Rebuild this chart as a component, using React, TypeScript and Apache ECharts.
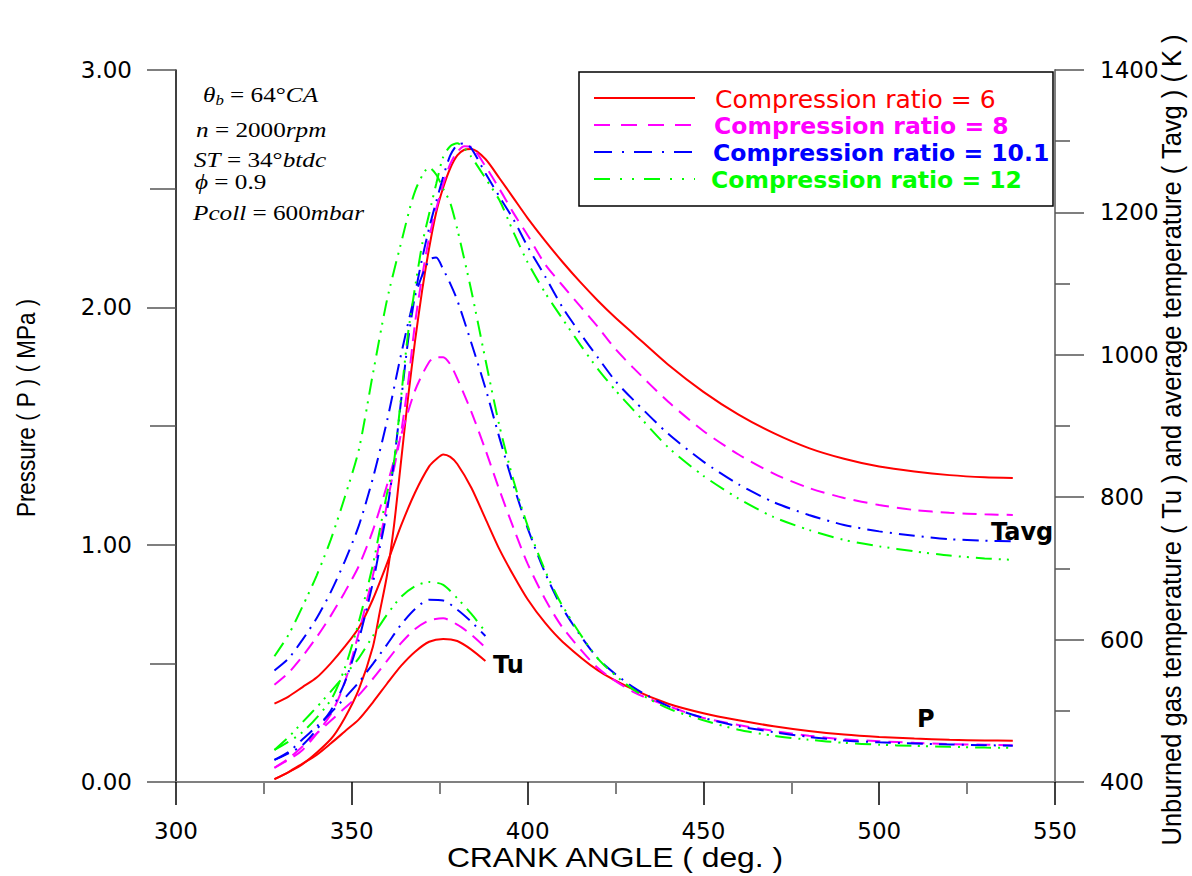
import React, { useEffect, useRef } from "react";
import * as echarts from "echarts";

// ---------- data ----------
const crankP = [328, 332, 336, 340, 344, 348, 352, 356, 360, 364, 368, 372, 374, 376, 378, 380, 384, 388, 392, 396, 400, 405, 410, 420, 430, 440, 450, 460, 470, 480, 490, 500, 510, 520, 530, 538];
const pCR6 = [0.33, 0.36, 0.40, 0.44, 0.50, 0.57, 0.65, 0.77, 0.92, 1.08, 1.22, 1.33, 1.36, 1.38, 1.37, 1.34, 1.24, 1.11, 0.98, 0.87, 0.77, 0.67, 0.59, 0.47, 0.39, 0.33, 0.29, 0.26, 0.235, 0.215, 0.2, 0.19, 0.183, 0.178, 0.175, 0.174];
const pCR8 = [0.41, 0.46, 0.53, 0.61, 0.70, 0.80, 0.91, 1.06, 1.25, 1.46, 1.65, 1.77, 1.79, 1.79, 1.76, 1.70, 1.56, 1.40, 1.23, 1.07, 0.92, 0.77, 0.65, 0.48, 0.38, 0.32, 0.27, 0.24, 0.215, 0.195, 0.18, 0.172, 0.165, 0.16, 0.157, 0.155];
const pCR10 = [0.47, 0.52, 0.60, 0.69, 0.80, 0.93, 1.08, 1.28, 1.52, 1.80, 2.05, 2.20, 2.21, 2.16, 2.10, 2.03, 1.85, 1.66, 1.45, 1.25, 1.07, 0.88, 0.73, 0.52, 0.40, 0.32, 0.27, 0.235, 0.21, 0.19, 0.175, 0.167, 0.162, 0.158, 0.155, 0.153];
const pCR12 = [0.53, 0.62, 0.74, 0.87, 1.02, 1.20, 1.40, 1.72, 2.03, 2.27, 2.49, 2.59, 2.56, 2.50, 2.44, 2.33, 2.07, 1.78, 1.50, 1.27, 1.08, 0.89, 0.74, 0.52, 0.39, 0.31, 0.26, 0.22, 0.195, 0.178, 0.165, 0.157, 0.152, 0.148, 0.145, 0.144];

const crankTu = [328, 332, 336, 340, 344, 348, 352, 356, 360, 364, 368, 372, 376, 380, 384, 388];
const tuCR6 = [404, 414, 426, 438, 454, 471, 488, 512, 538, 563, 583, 597, 601, 598, 586, 570];
const tuCR8 = [420, 433, 450, 468, 486, 504, 522, 545, 570, 595, 615, 627, 630, 621, 607, 589];
const tuCR10 = [431, 442, 460, 478, 497, 518, 540, 566, 593, 621, 643, 656, 655, 642, 625, 605];
const tuCR12 = [445, 463, 484, 505, 527, 550, 574, 605, 635, 660, 675, 681, 677, 658, 636, 611];

const crankT = [328, 336, 344, 348, 352, 356, 358, 360, 362, 364, 366, 368, 370, 372, 374, 376, 378, 380, 382, 384, 388, 392, 396, 400, 405, 410, 415, 420, 425, 430, 440, 450, 460, 470, 480, 490, 500, 510, 520, 530, 538];
const tavgCR6 = [404, 425, 460, 490, 530, 590, 640, 690, 760, 850, 940, 1020, 1090, 1150, 1200, 1235, 1262, 1280, 1288, 1289, 1275, 1248, 1220, 1192, 1160, 1130, 1102, 1076, 1052, 1030, 986, 948, 916, 890, 869, 854, 843, 836, 831, 828, 827];
const tavgCR8 = [420, 445, 495, 540, 610, 690, 740, 790, 840, 890, 960, 1045, 1110, 1165, 1205, 1240, 1268, 1285, 1293, 1292, 1265, 1233, 1199, 1168, 1127, 1097, 1068, 1039, 1008, 982, 934, 893, 860, 833, 813, 799, 789, 782, 778, 776, 775];
const tavgCR10 = [431, 452, 500, 540, 600, 680, 730, 780, 850, 935, 1020, 1085, 1135, 1178, 1215, 1250, 1280, 1295, 1297, 1290, 1255, 1222, 1190, 1152, 1110, 1066, 1030, 996, 963, 937, 889, 850, 818, 793, 775, 761, 752, 746, 741, 739, 738];
const tavgCR12 = [445, 470, 515, 560, 625, 705, 755, 805, 850, 940, 1030, 1095, 1155, 1198, 1240, 1278, 1293, 1297, 1290, 1278, 1248, 1217, 1172, 1130, 1087, 1050, 1014, 980, 950, 923, 870, 830, 798, 772, 754, 740, 731, 724, 718, 714, 712];

const ratios = ["6", "8", "10.1", "12"];
const colors = ["#ff0000", "#ff00ff", "#0000ff", "#00ff00"];
const dashes: any[] = ["solid", [14, 8], [16, 7, 2, 7], [16, 7, 2, 6, 2, 7]];
const legendDashes: any[] = [null, [16, 11], [18, 10, 2, 10], [16, 10, 2, 10, 2, 10]];

const pSets = [pCR6, pCR8, pCR10, pCR12];
const tuSets = [tuCR6, tuCR8, tuCR10, tuCR12];
const tavgSets = [tavgCR6, tavgCR8, tavgCR10, tavgCR12];

const xTicks = { min: 300, max: 550, interval: 50 };
const pTicks = { min: 0, max: 3, interval: 1 };
const tTicks = { min: 400, max: 1400, interval: 200 };

const zip = (xs: number[], ys: number[]) => xs.map((x, i) => [x, ys[i]]);

function buildOption() {
  const series: any[] = [];
  ratios.forEach((r, i) => {
    const ls = { color: colors[i], width: 2, type: dashes[i] };
    series.push({ type: "line", name: "P CR " + r, yAxisIndex: 0, data: zip(crankP, pSets[i]), symbol: "none", smooth: 0.25, lineStyle: ls, silent: true });
    series.push({ type: "line", name: "Tu CR " + r, yAxisIndex: 1, data: zip(crankTu, tuSets[i]), symbol: "none", smooth: 0.25, lineStyle: ls, silent: true });
    series.push({ type: "line", name: "Tavg CR " + r, yAxisIndex: 1, data: zip(crankT, tavgSets[i]), symbol: "none", smooth: 0.25, lineStyle: ls, silent: true });
  });

  const sans = "DejaVu Sans";
  const graphic: any[] = [];
  // legend box
  graphic.push({ type: "rect", shape: { x: 579, y: 72, width: 474, height: 134 }, style: { fill: "#fff", stroke: "#000", lineWidth: 1.5 }, z: 10 });
  const rowY = [98, 125, 152, 179];
  const textX = [715, 714, 713, 711];
  ratios.forEach((r, i) => {
    const st: any = { stroke: colors[i], lineWidth: 2 };
    if (legendDashes[i]) st.lineDash = legendDashes[i];
    graphic.push({ type: "line", shape: { x1: 594, y1: rowY[i], x2: 695, y2: rowY[i] }, style: st, z: 11 });
    graphic.push({
      type: "text", x: textX[i], y: rowY[i] + 1, z: 11,
      style: { text: "Compression ratio = " + r, fill: colors[i], fontFamily: sans, fontSize: i === 0 ? 25 : 23.5, fontWeight: i === 0 ? "normal" : "bold", align: "left", verticalAlign: "middle", textAlign: "left", textVerticalAlign: "middle" },
    });
  });

  // annotation block
  const rich = {
    it: { fontFamily: "Liberation Serif", fontStyle: "italic", fontSize: 21, fill: "#000" },
    up: { fontFamily: "Liberation Serif", fontSize: 21, fill: "#000" },
    sub: { fontFamily: "Liberation Serif", fontStyle: "italic", fontSize: 14, fill: "#000", padding: [10, 0, 0, 0] },
  };
  const notes = [
    { t: "{it|θ}{sub|b}{up| = 64°}{it|CA}", x: 203, y: 95 },
    { t: "{it|n}{up| = 2000}{it|rpm}", x: 196, y: 130 },
    { t: "{it|ST}{up| = 34°}{it|btdc}", x: 194, y: 160 },
    { t: "{it|ϕ}{up| = 0.9}", x: 195, y: 182 },
    { t: "{it|Pcoll}{up| = 600}{it|mbar}", x: 193, y: 213 },
  ];
  notes.forEach((n) => {
    graphic.push({ type: "text", x: n.x, y: n.y, scaleX: 1.2, style: { text: n.t, rich, align: "left", verticalAlign: "middle", textAlign: "left", textVerticalAlign: "middle" } });
  });

  // curve labels
  const lbl = (text: string, x: number, y: number) => ({
    type: "text", x, y, style: { text, fontFamily: sans, fontWeight: "bold", fontSize: 24, fill: "#000", align: "left", verticalAlign: "middle", textAlign: "left", textVerticalAlign: "middle" },
  });
  graphic.push(lbl("Tu", 493, 665));
  graphic.push(lbl("P", 917, 719));
  graphic.push(lbl("Tavg", 991, 532));

  // axis titles
  graphic.push({
    type: "text", x: 615, y: 857, scaleX: 1.18,
    style: { text: "CRANK ANGLE ( deg. )", fontFamily: "Liberation Sans", fontSize: 27, fill: "#000", align: "center", verticalAlign: "middle", textAlign: "center", textVerticalAlign: "middle" },
  });
  graphic.push({
    type: "text", x: 26, y: 408, rotation: Math.PI / 2, scaleY: 1.18,
    style: { text: "Pressure ( P ) ( MPa )", fontFamily: "Liberation Sans", fontSize: 22.5, fill: "#000", align: "center", verticalAlign: "middle", textAlign: "center", textVerticalAlign: "middle" },
  });
  graphic.push({
    type: "text", x: 1172, y: 440, rotation: Math.PI / 2, scaleY: 1.05,
    style: { text: "Unburned gas temperature ( Tu ) and average temperature ( Tavg ) ( K )", fontFamily: "Liberation Sans", fontSize: 25.5, lineHeight: 26, fill: "#000", align: "center", verticalAlign: "middle", textAlign: "center", textVerticalAlign: "middle" },
  });

  const labelStyle = { color: "#000", fontFamily: sans, fontSize: 23 };

  return {
    animation: false,
    backgroundColor: "#fff",
    grid: { left: 176, right: 137, top: 70, bottom: 94, containLabel: false },
    xAxis: {
      type: "value", ...xTicks, position: "bottom",
      axisLine: { show: true, lineStyle: { color: "#808080", width: 2 } },
      axisTick: { show: true, length: 23, lineStyle: { color: "#000", width: 1.5 } },
      minorTick: { show: true, splitNumber: 2, length: 12, lineStyle: { color: "#808080", width: 2 } },
      axisLabel: { ...labelStyle, margin: 37 },
      splitLine: { show: false },
    },
    yAxis: [
      {
        type: "value", ...pTicks, position: "left",
        axisLine: { show: true, lineStyle: { color: "#000", width: 1.5 } },
        axisTick: { show: true, length: 29, lineStyle: { color: "#555", width: 1.5 } },
        minorTick: { show: true, splitNumber: 2, length: 26, lineStyle: { color: "#555", width: 1.5 } },
        axisLabel: { ...labelStyle, margin: 44, formatter: (v: number) => v.toFixed(2) },
        splitLine: { show: false },
      },
      {
        type: "value", ...tTicks, position: "right",
        axisLine: { show: true, lineStyle: { color: "#808080", width: 2 } },
        axisTick: { show: true, length: 29, lineStyle: { color: "#555", width: 1.5 } },
        minorTick: { show: true, splitNumber: 2, length: 15, lineStyle: { color: "#555", width: 1.5 } },
        axisLabel: { ...labelStyle, margin: 45, formatter: (v: number) => String(v) },
        splitLine: { show: false },
      },
    ],
    series,
    graphic,
  };
}

export default function App() {
  const ref = useRef<HTMLDivElement>(null);
  useEffect(() => {
    const chart = echarts.init(ref.current!, null, { renderer: "svg" });
    chart.setOption(buildOption() as any);
    return () => chart.dispose();
  }, []);
  return (
    <div
      ref={ref}
      style={{ position: "fixed", left: 0, top: 0, width: 1192, height: 876, background: "#fff" }}
    />
  );
}
